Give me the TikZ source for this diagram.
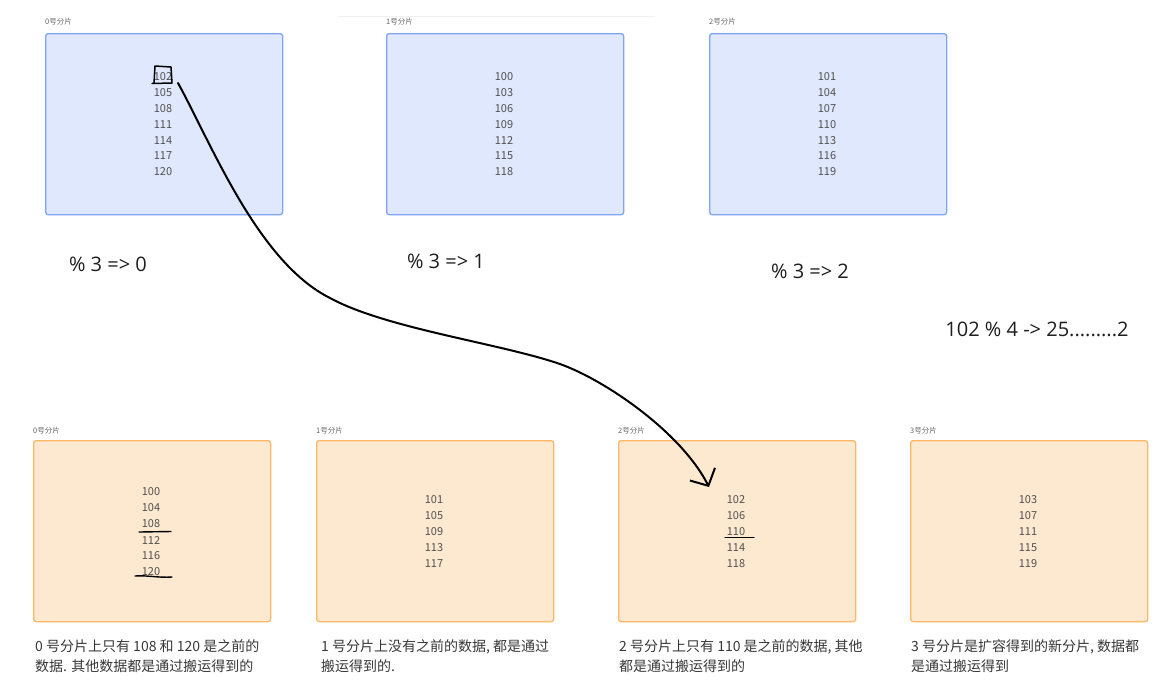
\documentclass[tikz,border=0pt]{standalone}
\usepackage{fontspec}
\setmainfont{Noto Sans CJK SC}
\newfontfamily\segoe{Open Sans}
\usetikzlibrary{arrows.meta,calc}
\definecolor{bluefill}{HTML}{E0E8FD}
\definecolor{blueline}{HTML}{7FA3F5}
\definecolor{orfill}{HTML}{FDE8D0}
\definecolor{orline}{HTML}{FCB866}
\definecolor{numc}{HTML}{505050}
\definecolor{tagc}{HTML}{666666}
\definecolor{descc}{HTML}{383838}
\definecolor{modc}{HTML}{1E1E1E}
\tikzset{
  shardbox/.style={draw, line width=1.3pt, rounded corners=2.5pt, anchor=north west,
    minimum width=237pt, minimum height=181pt, inner sep=0pt},
  bluebox/.style={shardbox, draw=blueline, fill=bluefill},
  orbox/.style={shardbox, draw=orline, fill=orfill},
  tag/.style={anchor=west, inner sep=0pt, text=tagc, font=\fontsize{7.5}{9}\selectfont},
  num/.style={inner sep=0pt, text=numc, font=\fontsize{11}{13}\selectfont},
  modlabel/.style={inner sep=0pt, text=modc, font=\segoe\fontsize{20}{24}\selectfont},
  desc/.style={anchor=north west, inner sep=0pt, align=left, text=descc,
    font=\fontsize{14}{20}\selectfont},
  hand/.style={draw=black, line width=2pt, line cap=round, line join=round},
}
\begin{document}
\begin{tikzpicture}[x=1pt,y=-1pt]
\useasboundingbox (0,0) rectangle (1169,697);
\fill[white] (0,0) rectangle (1169,697);
\draw[black!6, line width=1pt] (338,16) -- (655,16);

% top shards
\node[bluebox] (t0) at (45,33) {};
\node[bluebox] (t1) at (386,33) {};
\node[bluebox] (t2) at (709,33) {};
\node[tag] (tt0) at (45,22) {0号分片};
\node[tag] (tt1) at (386,22) {1号分片};
\node[tag] (tt2) at (709,22) {2号分片};
\foreach \v [count=\k] in {102,105,108,111,114,117,120}
  \node[num] (a\k) at (163,{77+(\k-1)*15.8}) {\v};
\foreach \v [count=\k] in {100,103,106,109,112,115,118}
  \node[num] (b\k) at (504,{77+(\k-1)*15.8}) {\v};
\foreach \v [count=\k] in {101,104,107,110,113,116,119}
  \node[num] (c\k) at (827,{77+(\k-1)*15.8}) {\v};

\node[modlabel] (m0) at (108,264) {\% 3 => 0};
\node[modlabel] (m1) at (446,261) {\% 3 => 1};
\node[modlabel] (m2) at (810,271) {\% 3 => 2};
\node[modlabel] (m3) at (1037,329) {102 \% 4 -> 25.........2};

% bottom shards
\node[orbox] (s0) at (33,440) {};
\node[orbox] (s1) at (316,440) {};
\node[orbox] (s2) at (618,440) {};
\node[orbox] (s3) at (910,440) {};
\node[tag] (ts0) at (33,431) {0号分片};
\node[tag] (ts1) at (316,431) {1号分片};
\node[tag] (ts2) at (618,431) {2号分片};
\node[tag] (ts3) at (910,431) {3号分片};
\foreach \v [count=\k] in {100,104,108,112,116,120}
  \node[num] (d\k) at (151,{492+(\k-1)*16}) {\v};
\foreach \v [count=\k] in {101,105,109,113,117}
  \node[num] (e\k) at (434,{500+(\k-1)*15.8}) {\v};
\foreach \v [count=\k] in {102,106,110,114,118}
  \node[num] (f\k) at (736,{500+(\k-1)*15.8}) {\v};
\foreach \v [count=\k] in {103,107,111,115,119}
  \node[num] (g\k) at (1028,{500+(\k-1)*15.8}) {\v};

% descriptions
\node[desc] (n0) at (35,639) {0 号分片上只有 108 和 120 是之前的\\数据. 其他数据都是通过搬运得到的};
\node[desc] (n1) at (321,639) {1 号分片上没有之前的数据, 都是通过\\搬运得到的.};
\node[desc] (n2) at (619,639) {2 号分片上只有 110 是之前的数据, 其他\\都是通过搬运得到的};
\node[desc] (n3) at (911,639) {3 号分片是扩容得到的新分片, 数据都\\是通过搬运得到};

% hand-drawn marks
\draw[hand, line width=1.5pt] ($(a1.center)+(-9,6)$) -- ($(a1.center)+(-8,-11)$) -- ($(a1.center)+(8,-10)$) -- ($(a1.center)+(9,6)$) -- ($(a1.center)+(-11,6.5)$);
\draw[hand, line width=1.4pt] ($(d3.center)+(-12,8)$) -- ($(d3.center)+(20,7.5)$);
\draw[hand, line width=1.4pt] ($(d6.center)+(-16,4)$) .. controls ($(d6.center)+(-5,3)$) and ($(d6.center)+(8,6)$) .. ($(d6.center)+(21,5)$);
\draw[hand, line width=1.4pt] ($(f3.center)+(-11,6)$) -- ($(f3.center)+(18,6)$);

% moving arrow
\coordinate (tip) at (709,487);
\draw[hand, -{Straight Barb[length=13pt,width=28pt,line width=2pt]}]
  ($(a1.center)+(15,6)$) .. controls (212,145) and (258,262) .. (330,298)
  .. controls (385,328) and (497,343) .. (557,363)
  .. controls (600,377) and (680,430) .. (tip);
\end{tikzpicture}
\end{document}
